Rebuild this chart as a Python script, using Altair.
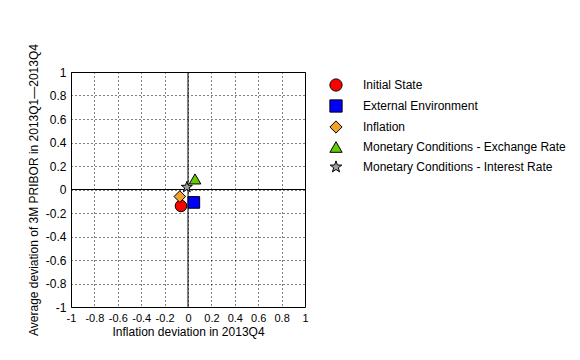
import altair as alt
import pandas as pd

names = ["Initial State", "External Environment", "Inflation",
         "Monetary Conditions - Exchange Rate", "Monetary Conditions - Interest Rate"]
x_vals = [-0.06, 0.05, -0.07, 0.06, -0.01]
y_vals = [-0.14, -0.11, -0.06, 0.09, 0.02]
colors = ["#FF0000", "#0000FF", "#F2A12A", "#66CC00", "#A0A0A0"]
tick_values = [-1, -0.8, -0.6, -0.4, -0.2, 0, 0.2, 0.4, 0.6, 0.8, 1]
x_title = "Inflation deviation in 2013Q4"
y_title = "Average deviation of 3M PRIBOR in 2013Q1\u20142013Q4"

star = ("M0,-1 L0.235,-0.324 L0.951,-0.309 L0.380,0.124 L0.588,0.809 L0,0.4 "
        "L-0.588,0.809 L-0.380,0.124 L-0.951,-0.309 L-0.235,-0.324 Z")
shapes = ["circle", "square", "diamond", "triangle-up", star]

df = pd.DataFrame({"name": names, "x": x_vals, "y": y_vals, "order": list(range(len(names)))})

FONT = "Liberation Sans"

xs = alt.Scale(domain=[-1, 1], nice=False, zero=False)
ys = alt.Scale(domain=[-1, 1], nice=False, zero=False)

legend = alt.Legend(title=None, orient="none", legendX=258, legendY=6,
                    symbolSize=150, symbolStrokeColor="black", symbolStrokeWidth=1,
                    labelOffset=20, rowPadding=3, labelFont=FONT, labelFontSize=12,
                    labelColor="black", padding=0, labelLimit=300)


def axis(title_pad, label_size):
    return alt.Axis(values=tick_values, tickCount=len(tick_values), labelExpr="'' + datum.value",
                    grid=True, gridDash=[1, 3], gridColor="black", gridOpacity=1, ticks=False,
                    tickSize=0, domain=False, labelPadding=5, titlePadding=title_pad,
                    labelFlush=False, labelOverlap=False, labelFontSize=label_size)


xaxis = axis(3, 11)
yaxis = axis(5, 12)

points = alt.Chart(df).mark_point(filled=True, size=135, stroke="black", strokeWidth=1, opacity=1).encode(
    x=alt.X("x:Q", scale=xs, title=x_title, axis=xaxis),
    y=alt.Y("y:Q", scale=ys, title=y_title, axis=yaxis),
    shape=alt.Shape("name:N", scale=alt.Scale(domain=names, range=shapes), legend=legend),
    color=alt.Color("name:N", scale=alt.Scale(domain=names, range=colors), legend=legend),
    order=alt.Order("order:Q"),
)

vline = alt.Chart(pd.DataFrame({"v": [0]})).mark_rule(color="black", strokeWidth=1).encode(
    x=alt.X("v:Q", scale=xs, title=x_title, axis=xaxis))
hline = alt.Chart(pd.DataFrame({"v": [0]})).mark_rule(color="black", strokeWidth=1).encode(
    y=alt.Y("v:Q", scale=ys, title=y_title, axis=yaxis))

chart = alt.layer(vline, hline, points).properties(
    width=234, height=235,
    autosize=alt.AutoSizeParams(type="none"),
    padding={"left": 63, "top": 64, "right": 265, "bottom": 40},
    background="white",
).configure_view(stroke="black", strokeWidth=1).configure_axis(
    labelFont=FONT, labelColor="black",
    titleFont=FONT, titleFontSize=12, titleColor="black", titleFontWeight="normal",
)

chart.save("out.html", embed_options={"renderer": "svg", "actions": False})
